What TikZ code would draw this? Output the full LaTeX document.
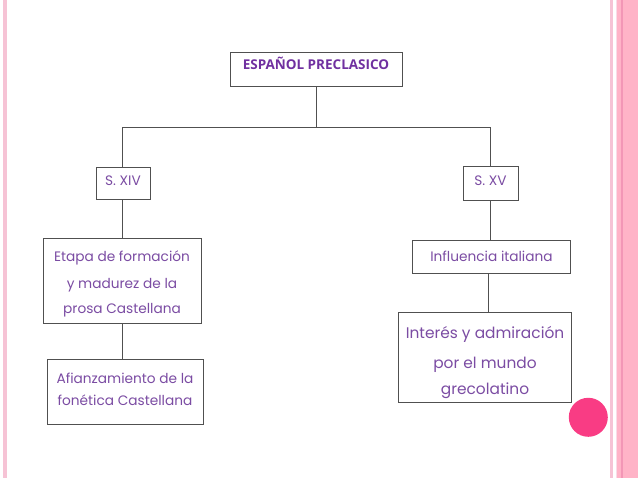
\documentclass[tikz,border=0pt]{standalone}
\usepackage{fontspec}
\setmainfont{Poppins}
\newfontfamily\titlefont{Open Sans}
\definecolor{txt}{HTML}{7B4CA3}
\definecolor{ttl}{HTML}{7030A0}
\definecolor{ln}{HTML}{505050}
\definecolor{pinkA}{HTML}{F6C3D5}
\definecolor{pinkB}{HTML}{FFB3C7}
\definecolor{pinkC}{HTML}{F396B6}
\definecolor{dot}{HTML}{F93C84}
\begin{document}
\begin{tikzpicture}[x=1pt,y=-1pt,
  box/.style={draw=ln,line width=1pt,inner sep=0pt,minimum width=#1},
  tx/.style={text=txt,font=\fontsize{13.7}{15}\selectfont,anchor=base,inner sep=0pt},
  big/.style={font=\fontsize{15.4}{17}\selectfont},
  link/.style={draw=ln,line width=1pt}]
\useasboundingbox (0,0) rectangle (638,478);
\fill[white] (0,0) rectangle (638,478);
% page decoration
\fill[pinkA] (3,0) rectangle (7,478);
\fill[pinkA] (610,0) rectangle (612.5,478);
\fill[pinkA!60] (615.5,0) rectangle (617,478);
\fill[pinkB] (617,0) rectangle (638,478);
\fill[pinkC] (621,0) rectangle (623,478);
\fill[dot] (588.3,417.3) circle (19.5);
% boxes
\node[box=172pt,minimum height=34pt] (top) at (316,70) {};
\node[box=54pt,minimum height=32pt] (s14) at (123,184) {};
\node[box=55pt,minimum height=34pt] (s15) at (490.5,184) {};
\node[box=158pt,minimum height=85pt] (etapa) at (122,281.5) {};
\node[box=156pt,minimum height=65pt] (afi) at (125,392.5) {};
\node[box=158pt,minimum height=33pt] (inf) at (491.5,257.5) {};
\node[box=173pt,minimum height=90pt] (int) at (485,358) {};
% texts
\node[text=ttl,font=\titlefont\bfseries\fontsize{13.5}{15}\selectfont,anchor=base,inner sep=0pt] (ttop) at (316,70) {ESPAÑOL PRECLASICO};
\node[tx] (t14) at (123,186) {S. XIV};
\node[tx] (t15) at (490.5,186) {S. XV};
\node[tx] (te1) at (122,261.5) {Etapa de formación};
\node[tx] (te2) at (122,288.5) {y madurez de la};
\node[tx] (te3) at (122,313.5) {prosa Castellana};
\node[tx] (ta1) at (125,384) {Afianzamiento de la};
\node[tx] (ta2) at (125,405.5) {fonética Castellana};
\node[tx] (ti) at (491.5,262) {Influencia italiana};
\node[tx,big] (tn1) at (485,338.5) {Interés y admiración};
\node[tx,big] (tn2) at (485,368.5) {por el mundo};
\node[tx,big] (tn3) at (485,394.5) {grecolatino};
% connectors
\coordinate (bus) at (316.7,127.3);
\draw[link] (top.south -| bus) -- (bus);
\draw[link] (s14.north -| 122.7,0) |- (bus) -| (s15.north -| 490.7,0);
\draw[link] (s14.south -| 122.7,0) -- (etapa.north -| 122.7,0);
\draw[link] (etapa.south -| 122.7,0) -- (afi.north -| 122.7,0);
\draw[link] (s15.south -| 490.7,0) -- (inf.north -| 490.7,0);
\draw[link] (inf.south -| 488.7,0) -- (int.north -| 488.7,0);
\end{tikzpicture}
\end{document}
